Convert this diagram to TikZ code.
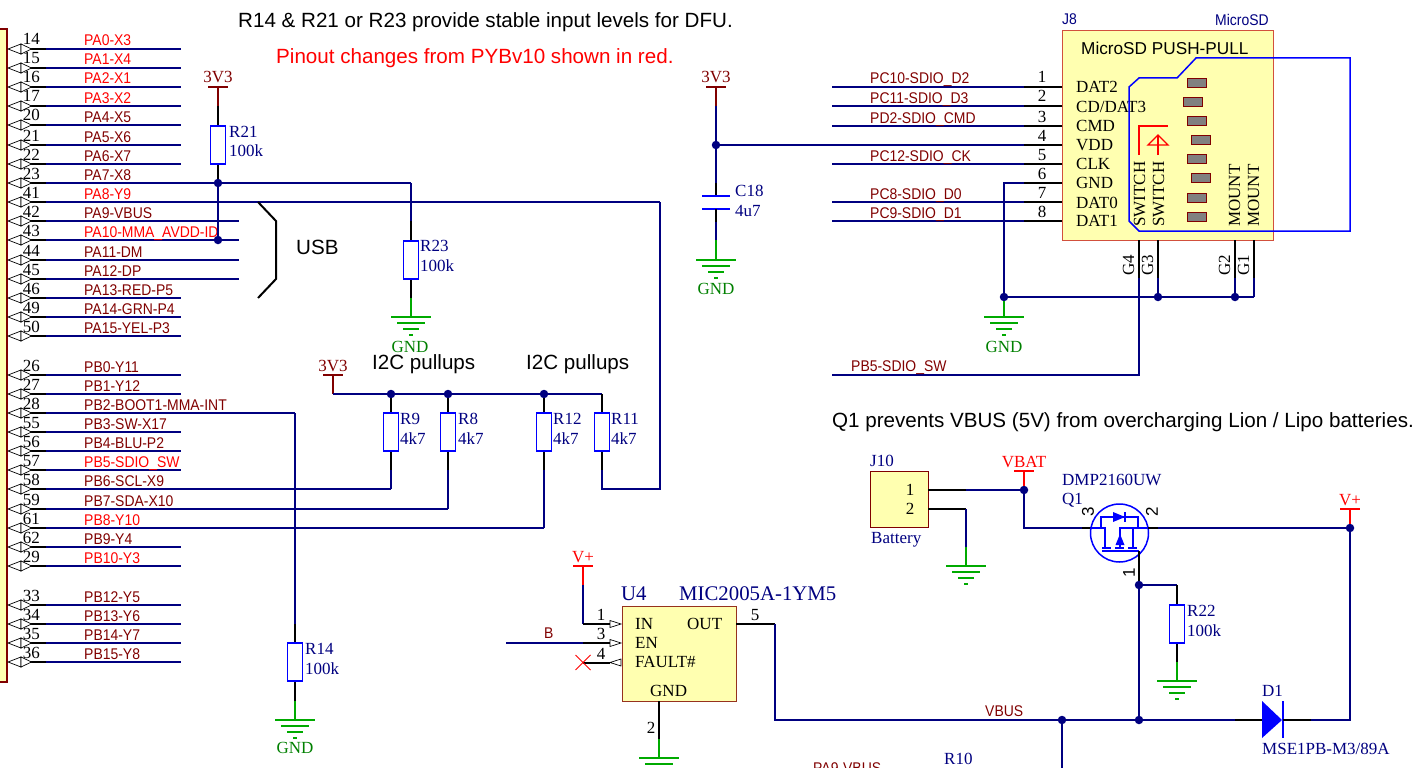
\documentclass[tikz,border=0pt]{standalone}
\usepackage{fontspec}
\setmainfont{Liberation Serif}
\setsansfont{Liberation Sans}
\newfontfamily\netfam[FakeStretch=0.9]{Liberation Sans}
\definecolor{wirec}{RGB}{0,0,128}
\definecolor{netred}{RGB}{255,0,0}
\definecolor{netdark}{RGB}{128,0,0}
\definecolor{compblue}{RGB}{0,0,255}
\definecolor{bodyy}{RGB}{255,255,176}
\definecolor{gndg}{RGB}{0,170,0}
\definecolor{gndt}{RGB}{0,128,0}
\tikzset{
  x=1pt,y=-1pt,
  wire/.style={draw=wirec,line width=2pt},
  stub/.style={draw=black,line width=2pt},
  pow/.style={draw=netred,line width=2pt},
  powd/.style={draw=netdark,line width=2pt},
  gndl/.style={draw=gndg,line width=2pt},
  comp/.style={draw=compblue,line width=1.8pt},
  dot/.style={circle,fill=wirec,inner sep=0pt,minimum size=8.5pt},
  res/.style={rectangle,draw=compblue,fill=white,line width=1.8pt,minimum width=15pt,minimum height=38pt,inner sep=0pt},
  ser/.style={font=\fontsize{17}{18}\selectfont,inner sep=0pt,anchor=base west,text=black},
  serc/.style={ser,anchor=base},
  net/.style={font=\netfam\fontsize{15.5}{16}\selectfont,inner sep=0pt,anchor=base west},
  note/.style={font=\sffamily\fontsize{20.6}{22}\selectfont,inner sep=0pt,anchor=base west},
  comptxt/.style={ser,text=wirec},
  tri/.style={draw=black,fill=white,line width=0.7pt,line join=miter},
  bodybox/.style={rectangle,fill=bodyy,line width=1.3pt,inner sep=0pt},
  pad/.style={rectangle,draw=netdark,fill=gray,line width=1pt,inner sep=0pt,anchor=north west},
}
\newcommand{\gndsym}[2]{%
  \draw[gndl] (#1-20,#2) -- (#1+20,#2);
  \draw[gndl] (#1-14,#2+6) -- (#1+14,#2+6);
  \draw[gndl] (#1-8,#2+12) -- (#1+8,#2+12);
  \draw[gndl] (#1-2,#2+18) -- (#1+2,#2+18);
}
\begin{document}
\begin{tikzpicture}
\useasboundingbox (0,0) rectangle (1428,768);
% left connector body
\fill[bodyy] (-5,29) rectangle (7,682);
\draw[netdark,line width=1.2pt] (-5,29) -- (7,29) -- (7,682) -- (-5,682);
% left pins
\foreach \idx/\y/\n/\l/\c/\e in {
 a0/49/14/PA0-X3/netred/181, a1/68/15/PA1-X4/netred/181, a2/87/16/PA2-X1/netred/181, a3/106/17/PA3-X2/netred/181,
 a4/125/20/PA4-X5/netdark/181, a5/145/21/PA5-X6/netdark/181, a6/164/22/PA6-X7/netdark/181, a7/183/23/PA7-X8/netdark/411,
 a8/202/41/PA8-Y9/netred/660, a9/221/42/PA9-VBUS/netdark/239, a10/240/43/PA10-MMA\_AVDD-ID/netred/239, a11/260/44/PA11-DM/netdark/239,
 a12/279/45/PA12-DP/netdark/239, a13/298/46/PA13-RED-P5/netdark/181, a14/317/49/PA14-GRN-P4/netdark/181, a15/336/50/PA15-YEL-P3/netdark/181,
 b0/375/26/PB0-Y11/netdark/181, b1/394/27/PB1-Y12/netdark/181, b2/413/28/PB2-BOOT1-MMA-INT/netdark/295, b3/432/55/PB3-SW-X17/netdark/181,
 b4/451/56/PB4-BLU-P2/netdark/181, b5/470/57/PB5-SDIO\_SW/netred/181, b6/489/58/PB6-SCL-X9/netdark/391, b7/509/59/PB7-SDA-X10/netdark/448,
 b8/528/61/PB8-Y10/netred/544, b9/547/62/PB9-Y4/netdark/181, b10/566/29/PB10-Y3/netred/181,
 b12/605/33/PB12-Y5/netdark/181, b13/624/34/PB13-Y6/netdark/181, b14/643/35/PB14-Y7/netdark/181, b15/662/36/PB15-Y8/netdark/181}{
  \coordinate (p\idx) at (21,\y);
  \coordinate (k\idx) at (46,\y);
  \coordinate (e\idx) at (\e,\y);
  \draw[stub] (p\idx) -- (k\idx);
  \draw[wire] (k\idx) -- (e\idx);
  \draw[tri] (8,\y) -- (21,\y-5) -- (21,\y+5) -- cycle;
  \draw[tri] (31.5,\y) -- (21,\y-5) -- (21,\y+5) -- cycle;
  \node[serc] (num\idx) at (31.5,\y-4) {\n};
  \node[net,text=\c] (lab\idx) at (84,\y-3) {\l};
}
% top notes
\node[note] (n1) at (238,27.5) {R14 \& R21 or R23 provide stable input levels for DFU.};
\node[note,text=netred] (n2) at (276,63.5) {Pinout changes from PYBv10 shown in red.};
\node[note] (n3) at (832,427.5) {Q1 prevents VBUS (5V) from overcharging Lion / Lipo batteries.};
\node[note] (usb) at (296,254.5) {USB};
\node[note] (i2c1) at (372,369.5) {I2C pullups};
\node[note] (i2c2) at (526,369.5) {I2C pullups};
% USB brace
\coordinate (ub1) at (258,202); \coordinate (ub2) at (276,221); \coordinate (ub3) at (276,279); \coordinate (ub4) at (258,298);
\draw[stub] (ub1) -- (ub2) -- (ub3) -- (ub4);
% 3V3 rails
\node[serc,text=netdark] (v1) at (218,83) {3V3};
\draw[powd] (208,87) -- (228,87);
\node[res] (R21) at (218,145) {};
\coordinate (r21t) at (218,87); \coordinate (r21s) at (218,106);
\draw[powd] (r21t) -- (r21s);
\draw[stub] (r21s) -- (R21.north);
\node[dot] (d1) at (218,183) {};
\node[dot] (d2) at (218,240) {};
\draw[stub] (R21.south) -- (d1);
\draw[wire] (d1) -- (d2);
\node[comptxt] at (229,137) (r21a) {R21};
\node[comptxt] at (229,156) (r21b) {100k};
% R23
\node[res] (R23) at (411,260) {};
\coordinate (r23s) at (411,221);
\draw[wire] (ea7) -- (r23s);
\draw[stub] (r23s) -- (R23.north);
\coordinate (r23g) at (411,298); \coordinate (r23h) at (411,317);
\draw[stub] (R23.south) -- (r23g);
\draw[gndl] (r23g) -- (r23h);
\gndsym{411}{317}
\node[serc,text=gndt] (g1) at (410,352) {GND};
\node[comptxt] (r23l) at (420,251) {R23};
\node[comptxt] (r23v) at (420,271) {100k};
% I2C
\node[serc,text=netdark] (v2) at (333,371) {3V3};
\draw[powd] (323,375) -- (343,375);
\coordinate (i0) at (333,375); \coordinate (i1) at (333,394);
\draw[powd] (i0) -- (i1);
\node[res] (R9) at (391,432) {};
\node[res] (R8) at (448,432) {};
\node[res] (R12) at (544,432) {};
\node[res] (R11) at (602,432) {};
\node[dot] (j9) at (391,394) {};
\node[dot] (j8) at (448,394) {};
\node[dot] (j12) at (544,394) {};
\coordinate (j11) at (602,394);
\draw[wire] (i1) -- (j9) -- (j8) -- (j12) -- (j11);
\draw[stub] (j9) -- (R9.north);
\draw[stub] (j8) -- (R8.north);
\draw[stub] (j12) -- (R12.north);
\draw[stub] (j11) -- (R11.north);
\coordinate (s9) at (391,470); \coordinate (s8) at (448,470); \coordinate (s12) at (544,470); \coordinate (s11) at (602,470);
\draw[stub] (R9.south) -- (s9);
\draw[stub] (R8.south) -- (s8);
\draw[stub] (R12.south) -- (s12);
\draw[stub] (R11.south) -- (s11);
\draw[wire] (s9) -- (eb6);
\draw[wire] (s8) -- (eb7);
\draw[wire] (s12) -- (eb8);
\draw[wire] (s11) -- (602,489) -- (660,489) -- (ea8);
\node[comptxt] (l9) at (400,424) {R9};
\node[comptxt] (v9) at (400,444) {4k7};
\node[comptxt] (l8) at (458,424) {R8};
\node[comptxt] (v8) at (458,444) {4k7};
\node[comptxt] (l12) at (553,424) {R12};
\node[comptxt] (v12) at (553,444) {4k7};
\node[comptxt] (l11) at (611,424) {R11};
\node[comptxt] (v11) at (611,444) {4k7};
% R14
\node[res] (R14) at (295,662) {};
\coordinate (r14s) at (295,624);
\draw[wire] (eb2) -- (r14s);
\draw[stub] (r14s) -- (R14.north);
\coordinate (r14g) at (295,701); \coordinate (r14h) at (295,720);
\draw[stub] (R14.south) -- (r14g);
\draw[gndl] (r14g) -- (r14h);
\gndsym{295}{720}
\node[serc,text=gndt] (g2) at (295,753) {GND};
\node[comptxt] (l14) at (305,654) {R14};
\node[comptxt] (v14) at (305,674) {100k};
% C18
\node[serc,text=netdark] (v3) at (716,83) {3V3};
\draw[powd] (706,87) -- (726,87);
\coordinate (c0) at (716,87); \coordinate (c1) at (716,106);
\node[dot] (c2) at (716,145) {};
\coordinate (c3) at (716,183); \coordinate (c4) at (716,196); \coordinate (c5) at (716,209);
\coordinate (c6) at (716,222); \coordinate (c7) at (716,240); \coordinate (c8) at (716,260);
\draw[powd] (c0) -- (c1);
\draw[wire] (c1) -- (c2) -- (c3);
\draw[stub] (c3) -- (c4);
\draw[comp] (702,196) -- (730,196);
\draw[comp] (702,209) -- (730,209);
\draw[stub] (c5) -- (c6);
\draw[wire] (c6) -- (c7);
\draw[gndl] (c7) -- (c8);
\gndsym{716}{260}
\node[serc,text=gndt] (g3) at (716,294) {GND};
\node[comptxt] (lc) at (735,196) {C18};
\node[comptxt] (vc) at (735,216) {4u7};
% J8
\node[bodybox,draw={rgb,255:red,210;green,80;blue,60},anchor=north west,minimum width=211pt,minimum height=210pt] (J8) at (1062,30) {};
\node[net,text=wirec] (j8a) at (1062,25) {J8};
\node[net,text=wirec] (j8b) at (1215,26) {MicroSD};
\node[note,font=\sffamily\fontsize{17.2}{18}\selectfont] (j8c) at (1081,55) {MicroSD PUSH-PULL};
\foreach \idx/\y in {1/87,2/106,3/126,5/164,7/202,8/221}{
  \coordinate (jp\idx) at (1062,\y); \coordinate (jk\idx) at (1024,\y); \coordinate (je\idx) at (832,\y);
  \draw[stub] (jp\idx) -- (jk\idx);
  \draw[wire] (jk\idx) -- (je\idx);
}
\coordinate (jp4) at (1062,145); \coordinate (jk4) at (1024,145);
\draw[stub] (jp4) -- (jk4); \draw[wire] (jk4) -- (c2);
\foreach \y/\n/\l in {87/1/DAT2,107/2/CD\slash DAT3,126/3/CMD,145/4/VDD,164/5/CLK,183/6/GND,203/7/DAT0,221/8/DAT1}{
  \node[ser] (jl\n) at (1076,\y+5.5) {\l};
}
\foreach \y/\n in {87/1,106/2,126/3,145/4,164/5,183/6,202/7,221/8}{
  \node[serc] (jn\n) at (1042,\y-4) {\n};
}
\foreach \y/\n/\l in {87/1/PC10-SDIO\_D2,106/2/PC11-SDIO\_D3,126/3/PD2-SDIO\_CMD,164/5/PC12-SDIO\_CK,202/7/PC8-SDIO\_D0,221/8/PC9-SDIO\_D1}{
  \node[net,text=netdark] (jnet\n) at (870,\y-3) {\l};
}
% GND pin 6
\coordinate (g6a) at (1062,183); \coordinate (g6b) at (1024,183); \coordinate (g6c) at (1004,183);
\node[dot] (gj) at (1004,297) {};
\node[dot] (gg3) at (1158,297) {};
\node[dot] (gg2) at (1235,297) {};
\coordinate (gg1) at (1254,297);
\coordinate (g6g) at (1004,317);
\draw[stub] (g6a) -- (g6b);
\draw[wire] (g6b) -- (g6c) -- (gj);
\draw[wire] (gj) -- (gg3) -- (gg2) -- (gg1);
\draw[gndl] (gj) -- (g6g);
\gndsym{1004}{317}
\node[serc,text=gndt] (g4) at (1004,352) {GND};
% G pins
\coordinate (G4) at (1139,240); \coordinate (G4k) at (1139,278); \coordinate (G4e) at (1139,375); \coordinate (G4f) at (832,375);
\draw[stub] (G4) -- (G4k);
\draw[wire] (G4k) -- (G4e) -- (G4f);
\node[net,text=netdark] (swn) at (851,371) {PB5-SDIO\_SW};
\coordinate (G3) at (1158,240); \coordinate (G3k) at (1158,278);
\draw[stub] (G3) -- (G3k); \draw[wire] (G3k) -- (gg3);
\coordinate (G2) at (1235,240); \coordinate (G2k) at (1235,278);
\draw[stub] (G2) -- (G2k); \draw[wire] (G2k) -- (gg2);
\coordinate (G1) at (1254,240); \coordinate (G1k) at (1254,278);
\draw[stub] (G1) -- (G1k); \draw[wire] (G1k) -- (gg1);
\node[ser,rotate=90,anchor=base west] (tG4) at (1134,276) {G4};
\node[ser,rotate=90,anchor=base west] (tG3) at (1153,276) {G3};
\node[ser,rotate=90,anchor=base west] (tG2) at (1230,276) {G2};
\node[ser,rotate=90,anchor=base west] (tG1) at (1249,276) {G1};
\node[ser,rotate=90,anchor=base west] (ts1) at (1145,227) {SWITCH};
\node[ser,rotate=90,anchor=base west] (ts2) at (1164,227) {SWITCH};
\node[ser,rotate=90,anchor=base west] (tm1) at (1240,227) {MOUNT};
\node[ser,rotate=90,anchor=base west] (tm2) at (1259,227) {MOUNT};
% card outline
\draw[compblue,line width=1.5pt] (1350,58) -- (1196,58) -- (1177,78) -- (1139,78) -- (1129,87) -- (1129,221) -- (1139,231) -- (1350,231) -- cycle;
\draw[netred,line width=1.3pt] (1139,155) -- (1139,126) -- (1168,126);
\draw[netred,line width=1.3pt] (1158,155) -- (1158,135);
\draw[netred,line width=1.3pt] (1148,145) -- (1158,135) -- (1168,145) -- cycle;
% pads
\foreach \i/\px/\py in {1/1186.5/78,2/1183/97,3/1186.5/116,4/1190.5/135,5/1186.5/154,6/1190.5/173,7/1186.5/193,8/1186.5/212}{
  \node[pad,minimum width=19pt,minimum height=9pt] (pad\i) at (\px,\py) {};
}
% J10
\node[bodybox,draw=netdark,anchor=north west,minimum width=58pt,minimum height=56pt] (J10) at (870,471) {};
\node[comptxt] (tj10) at (870,466) {J10};
\node[comptxt] (tbat) at (871,543) {Battery};
\node[serc] (j101) at (910,495) {1};
\node[serc] (j102) at (910,514) {2};
\coordinate (jb1) at (928,490); \coordinate (jb1k) at (966,490);
\node[dot] (vb) at (1024,490) {};
\draw[stub] (jb1) -- (jb1k); \draw[wire] (jb1k) -- (vb);
\coordinate (jb2) at (928,509); \coordinate (jb2k) at (966,509); \coordinate (jb2g) at (966,547); \coordinate (jb2h) at (966,566);
\draw[stub] (jb2) -- (jb2k); \draw[wire] (jb2k) -- (jb2g); \draw[gndl] (jb2g) -- (jb2h);
\gndsym{966}{566}
% VBAT
\node[serc,text=netred] (tvbat) at (1024,467) {VBAT};
\draw[pow] (1014,471) -- (1034,471);
\coordinate (vt) at (1024,471);
\draw[pow] (vt) -- (vb);
\coordinate (q3) at (1091,528); \coordinate (q3k) at (1082,528); \coordinate (q3c) at (1024,528);
\draw[wire] (vb) -- (q3c) -- (q3k);
\draw[stub] (q3k) -- (q3);
% Q1
\node[circle,draw=compblue,line width=1.5pt,minimum size=58pt,inner sep=0pt] (Q1) at (1119.5,533) {};
\coordinate (q2) at (1148,528); \coordinate (q2k) at (1158,528);
\node[dot] (vp) at (1350,528) {};
\draw[stub] (q2) -- (q2k);
\draw[wire] (q2k) -- (vp);
\draw[comp] (1091,528) -- (1105,528) -- (1105,548);
\draw[comp] (1148,528) -- (1120,528) -- (1120,548);
\draw[comp] (1133,528) -- (1133,548);
\draw[comp] (1101,528) -- (1101,517) -- (1138,517) -- (1138,528);
\fill[compblue] (1113,512) -- (1113,522) -- (1125,517) -- cycle;
\draw[comp] (1125,512) -- (1125,522);
\draw[comp] (1102,548) -- (1111,548);
\draw[comp] (1115,548) -- (1124,548);
\draw[comp] (1128,548) -- (1137,548);
\draw[comp] (1102,551) -- (1139,551);
\fill[compblue] (1115.5,545) -- (1124.5,545) -- (1120,534) -- cycle;
\draw[comp] (1120,545) -- (1120,548);
\coordinate (q1g) at (1139,551);
\node[dot] (q1j) at (1139,585) {};
\node[dot] (q1b) at (1139,720) {};
\draw[stub] (q1g) -- (q1j);
\draw[wire] (q1j) -- (q1b);
\node[ser,rotate=90,anchor=center] (t3) at (1088,512) {\sffamily 3};
\node[ser,rotate=90,anchor=center] (t2) at (1152,512) {\sffamily 2};
\node[ser,rotate=90,anchor=center] (t1) at (1129,573) {\sffamily 1};
\node[comptxt] (tq) at (1062,485) {DMP2160UW};
\node[comptxt] (tq1) at (1062,504.5) {Q1};
% V+
\node[serc,text=netred] (tvp) at (1350,505) {V+};
\draw[pow] (1340,509) -- (1360,509);
\coordinate (vpt) at (1350,509);
\draw[pow] (vpt) -- (vp);
% R22
\node[res] (R22) at (1177,624) {};
\coordinate (r22k) at (1177,585); \coordinate (r22g) at (1177,662); \coordinate (r22h) at (1177,681);
\draw[wire] (q1j) -- (r22k);
\draw[stub] (r22k) -- (R22.north);
\draw[stub] (R22.south) -- (r22g);
\draw[gndl] (r22g) -- (r22h);
\gndsym{1177}{681}
\node[comptxt] (l22) at (1187,616) {R22};
\node[comptxt] (v22) at (1187,636) {100k};
% D1
\coordinate (da) at (1262,720); \coordinate (dak) at (1235,720); \coordinate (dc) at (1283,720); \coordinate (dck) at (1311,720); \coordinate (dr) at (1350,720);
\draw[stub] (dak) -- (da);
\fill[compblue] (1262,701) -- (1262,738) -- (1282,720) -- cycle;
\draw[comp] (1283,701) -- (1283,738);
\draw[stub] (dc) -- (dck);
\draw[wire] (dck) -- (dr) -- (vp);
\node[comptxt] (td1) at (1262,696) {D1};
\node[comptxt] (tmse) at (1262,754) {MSE1PB-M3/89A};
% VBUS
\node[dot] (vj) at (1062,720) {};
\coordinate (vjb) at (1062,768);
\draw[wire] (vj) -- (vjb);
\draw[wire] (q1b) -- (vj);
\draw[wire] (q1b) -- (dak);
\node[net,text=netdark] (tvbus) at (985,716) {VBUS};
\node[net,text=netdark] (tpa9) at (813,773) {PA9-VBUS};
\node[comptxt] (tr10) at (944,764) {R10};
% U4
\node[bodybox,draw={rgb,255:red,150;green,50;blue,30},anchor=north west,minimum width=114pt,minimum height=95pt] (U4) at (622,605.5) {};
\node[comptxt,font=\fontsize{20.8}{21}\selectfont] (tu4) at (621,600) {U4};
\node[comptxt,font=\fontsize{20.8}{21}\selectfont] (tmic) at (679,600) {MIC2005A-1YM5};
\node[ser] (tin) at (635,629.5) {IN};
\node[ser] (ten) at (635,648.5) {EN};
\node[ser] (tf) at (635,667.5) {FAULT\#};
\node[ser] (tout) at (687,629.5) {OUT};
\node[ser] (tgn) at (650,696.5) {GND};
\node[serc] (u1) at (601,620) {1};
\node[serc] (u3) at (601,639) {3};
\node[serc] (u4n) at (601,659) {4};
\node[serc] (u5) at (755,620) {5};
\node[serc] (u2) at (651,733) {2};
% U4 wiring
\node[serc,text=netred] (tv) at (583,562.5) {V+};
\draw[pow] (573,566) -- (593,566);
\coordinate (uv0) at (583,566); \coordinate (uv1) at (583,585); \coordinate (uv2) at (583,624); \coordinate (uin) at (610,624);
\draw[pow] (uv0) -- (uv1);
\draw[wire] (uv1) -- (uv2);
\draw[stub] (uv2) -- (uin);
\coordinate (ub) at (506,643); \coordinate (ubk) at (583,643); \coordinate (uen) at (610,643);
\draw[wire] (ub) -- (ubk);
\draw[stub] (ubk) -- (uen);
\node[net,text=netdark] (tb) at (544,638) {B};
\coordinate (ux) at (583,662.5); \coordinate (uf) at (610,662.5);
\draw[stub] (ux) -- (uf);
\draw[netred,line width=1pt] (575.5,655) -- (590.5,670);
\draw[netred,line width=1pt] (575.5,670) -- (590.5,655);
\draw[tri] (610,620.5) -- (621,624) -- (610,627.5) -- cycle;
\draw[tri] (610,639.5) -- (621,643) -- (610,646.5) -- cycle;
\draw[tri] (621,659) -- (610,662.5) -- (621,666) -- cycle;
\coordinate (uo) at (736,624); \coordinate (uok) at (775,624); \coordinate (uoj) at (775,720);
\draw[stub] (uo) -- (uok);
\draw[wire] (uok) -- (uoj) -- (vj);
\coordinate (ug0) at (659,701); \coordinate (ug1) at (659,739); \coordinate (ug2) at (659,758);
\draw[stub] (ug0) -- (ug1);
\draw[gndl] (ug1) -- (ug2);
\gndsym{659}{758}
\end{tikzpicture}
\end{document}
